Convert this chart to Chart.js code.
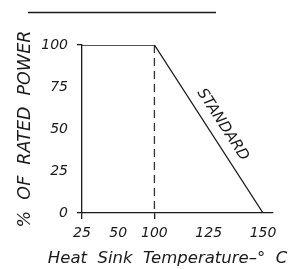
<!DOCTYPE html>
<html><head><meta charset="utf-8">
<script src="https://cdn.jsdelivr.net/npm/chart.js@4"></script>
<style>html,body{margin:0;padding:0;background:#fff}#wrap{width:291px;height:269px}</style>
</head><body><div id="wrap"><canvas id="c" width="291" height="269"></canvas></div>
<script>
// Data
const xTickLabels = [25, 50, 100, 125, 150];      // heat sink temperature ticks (°C)
const yTickLabels = [0, 25, 50, 75, 100];         // % of rated power ticks
const curveTemp = [25, 100, 150];                 // STANDARD derating curve
const curvePower = [100, 100, 0];
const markerTemp = [100, 100];                    // dashed marker at 100 °C
const markerPower = [100, 0];
const xTitle = 'Heat  Sink  Temperature–°  C';
const yTitle = '%  OF  RATED  POWER';
const curveLabel = 'STANDARD';

// The printed axis is not uniform: 25–50–100 are spaced evenly, then 100–125–150 wider.
const axisUnits = [0, 2, 4, 7, 10];
function tToU(t){
  for (let i=0;i<xTickLabels.length-1;i++){
    const a=xTickLabels[i], b=xTickLabels[i+1];
    if (t<=b || i===xTickLabels.length-2){
      return axisUnits[i] + (t-a)/(b-a)*(axisUnits[i+1]-axisUnits[i]);
    }
  }
}
function uToT(u){
  for (let i=0;i<axisUnits.length;i++) if (Math.abs(axisUnits[i]-u)<1e-6) return xTickLabels[i];
  return '';
}

const FONT = "'DejaVu Sans', 'Liberation Sans', sans-serif";
const INK = '#1a1a1a';

const deco = {
  id:'deco',
  afterDraw(chart){
    const {ctx, scales:{x,y}} = chart;
    ctx.save();
    // top rule
    ctx.strokeStyle = INK; ctx.lineWidth = 1.3;
    ctx.beginPath(); ctx.moveTo(28, 12.5); ctx.lineTo(216, 12.5); ctx.stroke();
    // x axis title (drawn here so it may be wider than the plot area)
    ctx.fillStyle = INK;
    ctx.font = "italic 16.5px " + FONT;
    ctx.textAlign = 'center'; ctx.textBaseline = 'middle';
    ctx.fillText(xTitle, x.left + (x.right - x.left)/2 - 10, chart.height - 10);
    // STANDARD label along the sloped segment
    const x1 = x.getPixelForValue(tToU(curveTemp[1])), y1 = y.getPixelForValue(curvePower[1]);
    const x2 = x.getPixelForValue(tToU(curveTemp[2])), y2 = y.getPixelForValue(curvePower[2]);
    const ang = Math.atan2(y2-y1, x2-x1);
    const f = 0.52;
    const mx = x1 + (x2-x1)*f, my = y1 + (y2-y1)*f;
    const off = 14;
    const px = mx + Math.sin(ang)*off, py = my - Math.cos(ang)*off;
    ctx.translate(px, py); ctx.rotate(ang);
    ctx.font = "italic 15px " + FONT;
    ctx.fillText(curveLabel, 0, 0);
    ctx.restore();
  }
};

new Chart(document.getElementById('c'), {
  type:'scatter',
  data:{
    datasets:[
      { data: curveTemp.map((t,i)=>({x:tToU(t), y:curvePower[i]})), showLine:true,
        borderColor:INK, borderWidth:1.3, pointRadius:0, fill:false },
      { data: markerTemp.map((t,i)=>({x:tToU(t), y:markerPower[i]})), showLine:true,
        borderColor:'#333', borderWidth:1.3, borderDash:[8,5], pointRadius:0, fill:false }
    ]
  },
  options:{
    responsive:false, animation:false,
    layout:{padding:{top:45, right:18, left:0, bottom:0}},
    plugins:{legend:{display:false}, tooltip:{enabled:false}},
    scales:{
      x:{
        type:'linear', min:0, max:10.55,
        afterBuildTicks(s){ s.ticks = axisUnits.map(v=>({value:v})); },
        afterFit(s){ s.height = 56; },
        border:{color:INK, width:1.3},
        grid:{drawOnChartArea:false, drawTicks:true, tickLength:6,
              color: c => (c.tick && (uToT(c.tick.value)===25 || uToT(c.tick.value)===100)) ? INK : 'rgba(0,0,0,0)', lineWidth:1.3},
        ticks:{color:INK, padding:6, maxRotation:0, autoSkip:false,
               font:{family:FONT, size:14, style:'italic'},
               callback: v => uToT(v)},
        title:{display:false}
      },
      y:{
        min:0, max:100,
        afterBuildTicks(s){ s.ticks = yTickLabels.map(v=>({value:v})); },
        afterFit(s){ s.width = 82; },
        border:{color:INK, width:1.3},
        grid:{drawOnChartArea:false, drawTicks:true, tickLength:5,
              color: c => (c.tick && (c.tick.value===0 || c.tick.value===100)) ? INK : 'rgba(0,0,0,0)', lineWidth:1.3},
        ticks:{color:INK, padding:9, font:{family:FONT, size:14, style:'italic'}},
        title:{display:true, text:yTitle, color:INK,
               font:{family:FONT, size:17.5, style:'italic'}, padding:{top:15,bottom:0}}
      }
    }
  },
  plugins:[deco]
});
</script></body></html>
